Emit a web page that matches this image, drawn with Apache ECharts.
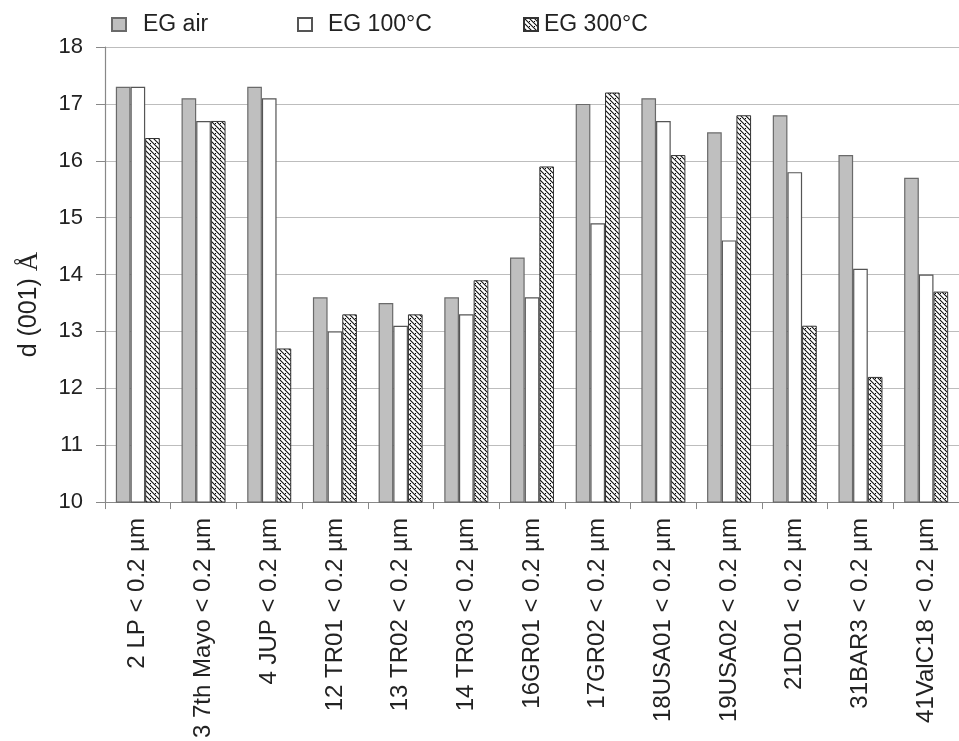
<!DOCTYPE html>
<html>
<head>
<meta charset="utf-8">
<script src="https://cdn.jsdelivr.net/npm/echarts@6/dist/echarts.min.js"></script>
<style>
  html, body { margin: 0; padding: 0; background: #fff; }
  #chart { width: 959px; height: 741px; }
</style>
</head>
<body>
<div id="chart"></div>
<script>
// Sample names (clay fraction < 0.2 µm)
const categories = [
  '2 LP < 0.2 µm', '3 7th Mayo < 0.2 µm', '4 JUP < 0.2 µm', '12 TR01 < 0.2 µm',
  '13 TR02 < 0.2 µm', '14 TR03 < 0.2 µm', '16GR01 < 0.2 µm', '17GR02 < 0.2 µm',
  '18USA01 < 0.2 µm', '19USA02 < 0.2 µm', '21D01 < 0.2 µm', '31BAR3 < 0.2 µm',
  '41ValC18 < 0.2 µm'
];
// d(001) spacing in Å after each treatment
const egAir    = [17.3, 17.1, 17.3, 13.6, 13.5, 13.6, 14.3, 17.0, 17.1, 16.5, 16.8, 16.1, 15.7];
const eg100    = [17.3, 16.7, 17.1, 13.0, 13.1, 13.3, 13.6, 14.9, 16.7, 14.6, 15.8, 14.1, 14.0];
const eg300    = [16.4, 16.7, 12.7, 13.3, 13.3, 13.9, 15.9, 17.2, 16.1, 16.8, 13.1, 12.2, 13.7];
const seriesNames = ['EG air', 'EG 100°C', 'EG 300°C'];
const yTicks = [10, 11, 12, 13, 14, 15, 16, 17, 18];

// Diagonal hatch with dots for the 300 °C series
function makeHatch() {
  const c = document.createElement('canvas');
  c.width = 5; c.height = 5;
  const g = c.getContext('2d');
  g.fillStyle = '#fff';
  g.fillRect(0, 0, 5, 5);
  g.strokeStyle = '#111';
  g.lineWidth = 1.1;
  g.beginPath();
  g.moveTo(-1, -1); g.lineTo(6, 6);
  g.moveTo(-1, 4); g.lineTo(1, 6);
  g.moveTo(4, -1); g.lineTo(6, 1);
  g.stroke();
  g.fillStyle = '#000';
  g.fillRect(0, 3, 1, 1);
  return c;
}
const hatch = { image: makeHatch(), repeat: 'repeat' };

const font = 'Liberation Sans, Arial, sans-serif';
const chart = echarts.init(document.getElementById('chart'), null, { renderer: 'canvas' });

const styles = [
  { color: '#bfbfbf', borderColor: '#6a6a6a', borderWidth: 1.2 },
  { color: '#ffffff', borderColor: '#555555', borderWidth: 1.2 },
  { color: hatch, borderColor: '#333333', borderWidth: 1 }
];
const dataSets = [egAir, eg100, eg300];
const legendLeft = [111, 297, 523];
const legendTextPad = [12, 11, 1];

chart.setOption({
  animation: false,
  backgroundColor: '#fff',
  textStyle: { fontFamily: font },
  legend: seriesNames.map((n, i) => ({
    data: [n],
    left: legendLeft[i],
    top: 13,
    itemWidth: 14,
    itemHeight: 13,
    itemGap: 0,
    padding: 0,
    icon: 'rect',
    selectedMode: false,
    textStyle: { fontSize: 23, color: '#222', fontFamily: font, padding: [0, 0, 0, legendTextPad[i]] }
  })),
  grid: { left: 105, right: -10, top: 47, bottom: 238, containLabel: false },
  xAxis: {
    type: 'category',
    data: categories,
    axisLine: { lineStyle: { color: '#888', width: 1.2 } },
    axisTick: { show: true, length: 7, lineStyle: { color: '#888' } },
    axisLabel: { rotate: 90, fontSize: 24, color: '#222', margin: 16, fontFamily: font }
  },
  yAxis: {
    type: 'value',
    min: yTicks[0],
    max: yTicks[yTicks.length - 1],
    interval: 1,
    name: '{a|d (001) }{b|Å}',
    nameLocation: 'middle',
    nameGap: 62,
    nameRotate: 90,
    nameTextStyle: {
      padding: [0, 60, 0, 0],
      rich: {
        a: { fontSize: 25, color: '#222', fontFamily: font },
        b: { fontSize: 27, color: '#222', fontFamily: 'Liberation Serif, Times New Roman, serif' }
      }
    },
    axisLine: { show: true, lineStyle: { color: '#888', width: 1.2 } },
    axisTick: { show: true, length: 9, lineStyle: { color: '#888' } },
    axisLabel: { fontSize: 22, color: '#222', margin: 22, fontFamily: font },
    splitLine: { show: true, lineStyle: { color: '#bdbdbd', width: 1.2 } }
  },
  series: seriesNames.map((n, i) => ({
    name: n,
    type: 'bar',
    data: dataSets[i],
    barGap: '0%',
    barCategoryGap: '33%',
    itemStyle: styles[i]
  }))
});
</script>
</body>
</html>
